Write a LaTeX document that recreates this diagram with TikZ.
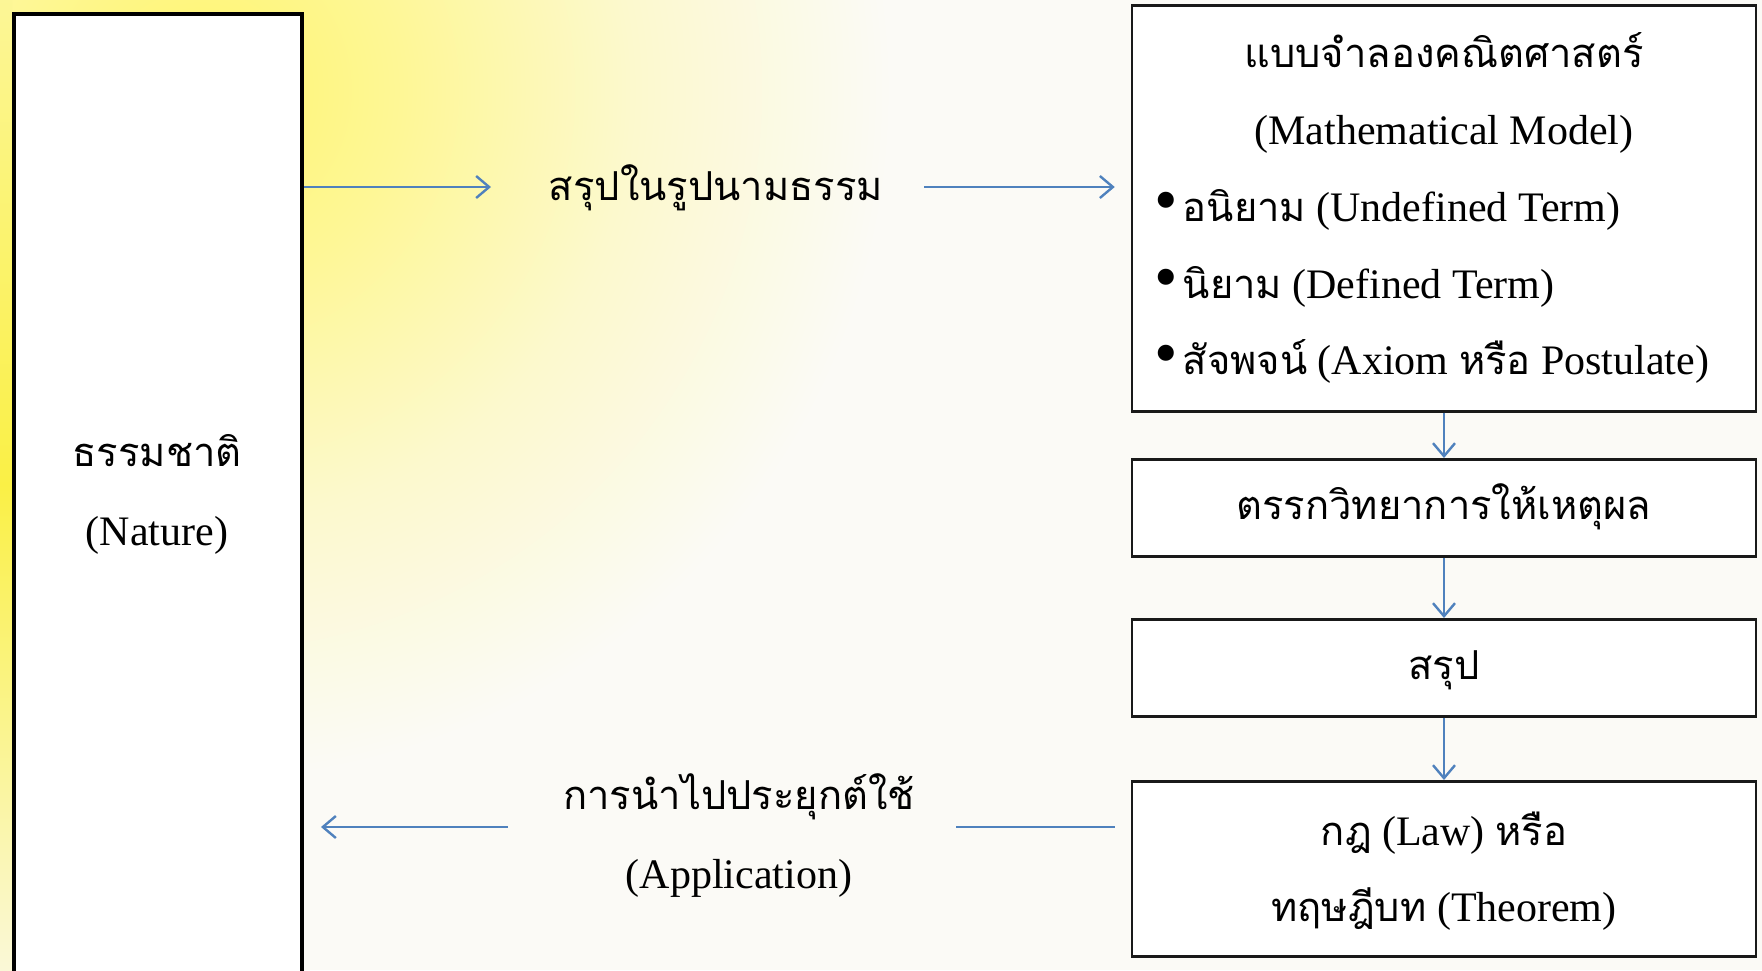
\documentclass[tikz,border=0pt]{standalone}
\usepackage{fontspec}
\usepackage{graphicx}
\setmainfont{Liberation Serif}
\newfontfamily\thaiF[Script=Thai,Scale=0.95]{Loma}
\usetikzlibrary{arrows.meta}
\definecolor{arrowblue}{RGB}{79,129,189}
\definecolor{bgbase}{RGB}{251,250,246}
\definecolor{glowA}{RGB}{255,245,110}
\definecolor{glowB}{RGB}{254,247,150}
\definecolor{glowC}{RGB}{252,249,205}
\definecolor{stripA}{RGB}{252,246,150}
\definecolor{stripB}{RGB}{250,240,70}
\definecolor{stripC}{RGB}{250,248,215}
\pgfdeclareradialshading{bgglow}{\pgfpoint{0bp}{0bp}}{color(0bp)=(glowA); color(7bp)=(glowB); color(15bp)=(glowC); color(24bp)=(bgbase); color(50bp)=(bgbase)}
\newcommand{\thx}[1]{{\thaiF #1}}
\newcommand{\bul}{\raisebox{-1pt}{\scalebox{1.6}{\textbullet}}\hspace{5pt}}
\tikzset{
  lab/.style={font=\fontsize{42}{50}\selectfont, inner sep=0pt, anchor=base},
  bigbox/.style={draw=black, line width=4pt, fill=white, inner sep=0pt},
  flowbox/.style={draw=black!90, line width=2.5pt, fill=white, inner sep=0pt, minimum width=624pt},
  conn/.style={draw=arrowblue, line width=2.4pt, -{Straight Barb[length=13pt,width=22pt]}},
  plain/.style={draw=arrowblue, line width=2.4pt}
}
\begin{document}
\begin{tikzpicture}[x=1pt,y=-1pt]
\useasboundingbox (0,0) rectangle (1762,970);
\fill[bgbase] (0,0) rectangle (1762,970);
\begin{scope}
\clip (0,0) rectangle (1762,970);
\shade[shading=bgglow] (200,90) circle (720);
\shade[top color=stripA, bottom color=stripC, middle color=stripB] (0,0) rectangle (12,970);
\end{scope}

% left box
\node[bigbox, minimum width=288pt, minimum height=1000pt, anchor=north west] (nature) at (12,12) {};
\node[lab] (natureTH) at (157,466) {\thx{ธรรมชาติ}};
\node[lab] (natureEN) at (157,545) {(Nature)};

% model box
\node[flowbox, minimum height=406pt, anchor=north] (model) at (1444,4) {};
\node[lab] (modelTH) at (1444,67) {\thx{แบบจำลองคณิตศาสตร์}};
\node[lab] (modelEN) at (1444,144) {(Mathematical Model)};
\node[lab, anchor=base west] (item1) at (1154,221) {\bul\thx{อนิยาม} (Undefined Term)};
\node[lab, anchor=base west] (item2) at (1154,298) {\bul\thx{นิยาม} (Defined Term)};
\node[lab, anchor=base west] (item3) at (1154,374) {\bul\thx{สัจพจน์} (Axiom \thx{หรือ} Postulate)};

% logic box
\node[flowbox, minimum height=97pt, anchor=north] (logic) at (1444,458) {};
\node[lab] (logicTH) at (1444,519) {\thx{ตรรกวิทยาการให้เหตุผล}};

% summary box
\node[flowbox, minimum height=97pt, anchor=north] (summary) at (1444,618) {};
\node[lab] (summaryTH) at (1444,679) {\thx{สรุป}};

% law box
\node[flowbox, minimum height=175pt, anchor=north] (law) at (1444,780) {};
\node[lab] (law1) at (1444,845) {\thx{กฎ} (Law) \thx{หรือ}};
\node[lab] (law2) at (1444,921) {\thx{ทฤษฎีบท} (Theorem)};

% middle labels
\node[lab] (abstract) at (716,200) {\thx{สรุปในรูปนามธรรม}};
\node[lab] (appTH) at (739,809) {\thx{การนำไปประยุกต์ใช้}};
\node[lab] (appEN) at (739,888) {(Application)};

% connector ends
\coordinate (c1) at (491,187);
\coordinate (c2) at (924,187);
\coordinate (c3) at (956,827);
\coordinate (c4) at (508,827);

\draw[conn] (nature.east |- c1) -- (c1);
\draw[conn, shorten >=16pt] (c2) -- (model.west |- c2);
\draw[conn] (model.south) -- (logic.north);
\draw[conn] (logic.south) -- (summary.north);
\draw[conn] (summary.south) -- (law.north);
\draw[plain, shorten <=16pt] (law.west |- c3) -- (c3);
\draw[conn, shorten >=17pt] (c4) -- (nature.east |- c4);
\end{tikzpicture}
\end{document}
